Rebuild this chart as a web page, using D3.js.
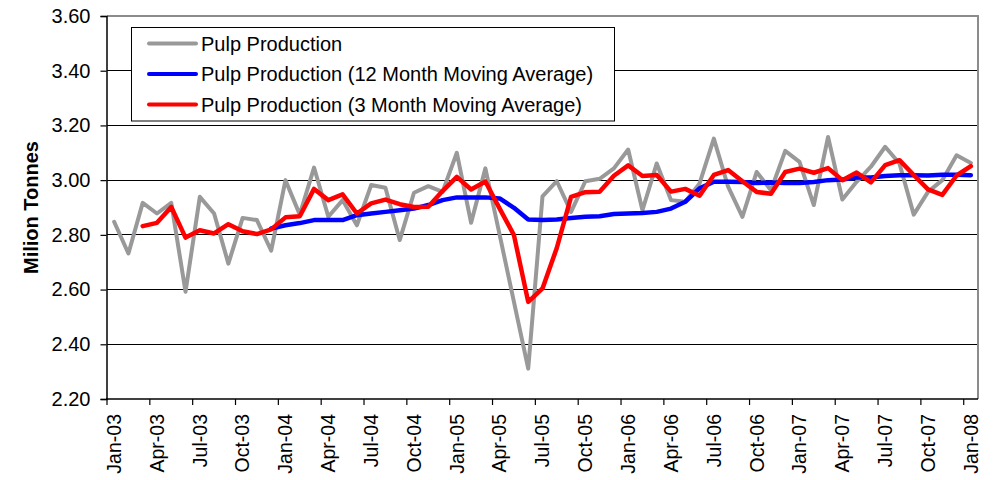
<!DOCTYPE html>
<html>
<head>
<meta charset="utf-8">
<script src="https://cdn.jsdelivr.net/npm/d3@7"></script>
<style>
  html, body { margin: 0; padding: 0; background: #fff; }
  svg { display: block; font-family: "Liberation Sans", Arial, sans-serif; }
</style>
</head>
<body>
<svg id="chart" width="998" height="480"></svg>
<script>
const months = [
  "Jan-03","Feb-03","Mar-03","Apr-03","May-03","Jun-03","Jul-03","Aug-03","Sep-03","Oct-03","Nov-03","Dec-03",
  "Jan-04","Feb-04","Mar-04","Apr-04","May-04","Jun-04","Jul-04","Aug-04","Sep-04","Oct-04","Nov-04","Dec-04",
  "Jan-05","Feb-05","Mar-05","Apr-05","May-05","Jun-05","Jul-05","Aug-05","Sep-05","Oct-05","Nov-05","Dec-05",
  "Jan-06","Feb-06","Mar-06","Apr-06","May-06","Jun-06","Jul-06","Aug-06","Sep-06","Oct-06","Nov-06","Dec-06",
  "Jan-07","Feb-07","Mar-07","Apr-07","May-07","Jun-07","Jul-07","Aug-07","Sep-07","Oct-07","Nov-07","Dec-07",
  "Jan-08"
];
const tickMonths = ["Jan-03","Apr-03","Jul-03","Oct-03","Jan-04","Apr-04","Jul-04","Oct-04","Jan-05","Apr-05","Jul-05","Oct-05",
  "Jan-06","Apr-06","Jul-06","Oct-06","Jan-07","Apr-07","Jul-07","Oct-07","Jan-08"];
const yTicks = [2.20, 2.40, 2.60, 2.80, 3.00, 3.20, 3.40, 3.60];

const production = [
  2.848, 2.732, 2.917, 2.878, 2.917, 2.592, 2.939, 2.878, 2.695, 2.862, 2.854, 2.742,
  3.000, 2.874, 3.046, 2.866, 2.927, 2.835, 2.982, 2.972, 2.781, 2.954, 2.978, 2.957,
  3.100, 2.844, 3.043, 2.800, 2.555, 2.311, 2.941, 2.996, 2.884, 2.996, 3.005, 3.043,
  3.112, 2.890, 3.061, 2.927, 2.921, 2.988, 3.152, 2.976, 2.866, 3.030, 2.963, 3.107,
  3.067, 2.909, 3.158, 2.929, 2.994, 3.049, 3.122, 3.061, 2.874, 2.957, 3.000, 3.091,
  3.063
];
const ma12 = [
  null, null, null, null, null, null, null, null, null, null, null, 2.823,
  2.835, 2.843, 2.854, 2.854, 2.854, 2.872, 2.878, 2.884, 2.890, 2.896, 2.909, 2.927,
  2.937, 2.937, 2.937, 2.933, 2.899, 2.856, 2.854, 2.856, 2.862, 2.866, 2.868, 2.876,
  2.878, 2.880, 2.884, 2.896, 2.921, 2.970, 2.994, 2.994, 2.993, 2.990, 2.991, 2.990,
  2.990, 2.993, 3.000, 3.002, 3.010, 3.010, 3.015, 3.018, 3.018, 3.017, 3.020, 3.020,
  3.018
];
const ma3 = [
  null, null, 2.832, 2.844, 2.902, 2.790, 2.817, 2.805, 2.839, 2.813, 2.803, 2.820,
  2.864, 2.868, 2.968, 2.927, 2.948, 2.878, 2.915, 2.929, 2.912, 2.902, 2.903, 2.960,
  3.012, 2.966, 2.995, 2.896, 2.799, 2.555, 2.604, 2.752, 2.939, 2.956, 2.958, 3.016,
  3.054, 3.015, 3.019, 2.958, 2.968, 2.943, 3.019, 3.037, 2.996, 2.957, 2.950, 3.030,
  3.042, 3.027, 3.044, 3.000, 3.028, 2.992, 3.055, 3.073, 3.019, 2.966, 2.946, 3.017,
  3.051
];

const series = [
  { name: "Pulp Production", values: production, color: "#999999", width: 4 },
  { name: "Pulp Production (12 Month Moving Average)", values: ma12, color: "#0000FF", width: 4.5 },
  { name: "Pulp Production (3 Month Moving Average)", values: ma3, color: "#FF0000", width: 4.5 }
];

const svg = d3.select("#chart");
const L = 107, R = 978, T = 16, B = 399;

const x = d3.scaleBand().domain(months).range([L, R]).padding(0);
const y = d3.scaleLinear().domain([2.2, 3.6]).range([B, T]);
const cx = m => x(m) + x.bandwidth() / 2;

// gridlines
svg.append("g").selectAll("line")
  .data(yTicks.filter(v => v > 2.21 && v < 3.59))
  .join("line")
  .attr("x1", L).attr("x2", R)
  .attr("y1", d => y(d)).attr("y2", d => y(d))
  .attr("stroke", "#000").attr("stroke-width", 1)
  .attr("shape-rendering", "crispEdges");

// plot border top/right (gray)
svg.append("line").attr("x1", L).attr("x2", R).attr("y1", y(3.6)).attr("y2", y(3.6))
  .attr("stroke", "#8c8c8c").attr("stroke-width", 2);
svg.append("line").attr("x1", R).attr("x2", R).attr("y1", T - 1).attr("y2", B)
  .attr("stroke", "#8c8c8c").attr("stroke-width", 2);

// y axis
const yAxis = d3.axisLeft(y).tickValues(yTicks).tickFormat(d3.format(".2f")).tickSize(6).tickPadding(10);
const gy = svg.append("g").attr("transform", `translate(${L - 0.5},0)`).call(yAxis);
gy.select(".domain").attr("stroke", "#000").attr("stroke-width", 1.5);
gy.selectAll(".tick line").attr("stroke", "#000").attr("stroke-width", 1.2);
gy.selectAll(".tick text").attr("font-size", "20px").attr("fill", "#000")
  .attr("font-family", "Liberation Sans, Arial, sans-serif");

// x axis: ticks at band starts
const gx = svg.append("g");
gx.append("line").attr("x1", L - 1).attr("x2", R).attr("y1", B).attr("y2", B)
  .attr("stroke", "#000").attr("stroke-width", 1.5);
gx.selectAll("line.tk").data(tickMonths).join("line").attr("class", "tk")
  .attr("x1", d => x(d)).attr("x2", d => x(d))
  .attr("y1", B).attr("y2", B + 6)
  .attr("stroke", "#000").attr("stroke-width", 1.2);
gx.selectAll("text").data(tickMonths).join("text")
  .attr("transform", d => `translate(${cx(d)},${B + 15}) rotate(-90)`)
  .attr("text-anchor", "end").attr("dy", "0.35em")
  .attr("font-size", "19.5px").attr("fill", "#000")
  .text(d => d);

// y title
svg.append("text")
  .attr("transform", `translate(38,${(T + B) / 2}) rotate(-90)`)
  .attr("text-anchor", "middle")
  .attr("font-size", "20px").attr("font-weight", "bold").attr("fill", "#000")
  .text("Milion Tonnes");

// lines
const line = d3.line()
  .defined(d => d.v != null)
  .x(d => cx(d.m)).y(d => y(d.v));
series.forEach(s => {
  svg.append("path")
    .datum(months.map((m, i) => ({ m, v: s.values[i] })))
    .attr("d", line)
    .attr("fill", "none")
    .attr("stroke", s.color)
    .attr("stroke-width", s.width)
    .attr("stroke-linejoin", "round")
    .attr("stroke-linecap", "round");
});

// legend
const lg = svg.append("g");
lg.append("rect").attr("x", 131.5).attr("y", 27.5).attr("width", 483).attr("height", 93.5)
  .attr("fill", "#fff").attr("stroke", "#000").attr("stroke-width", 1);
const rowY = [43.5, 74, 104.5];
series.forEach((s, i) => {
  lg.append("line").attr("x1", 149).attr("x2", 196).attr("y1", rowY[i]).attr("y2", rowY[i])
    .attr("stroke", s.color).attr("stroke-width", 4).attr("stroke-linecap", "round");
  lg.append("text").attr("x", 201).attr("y", rowY[i]).attr("dy", "0.35em")
    .attr("font-size", "20px").attr("fill", "#000").text(s.name);
});
</script>
</body>
</html>
